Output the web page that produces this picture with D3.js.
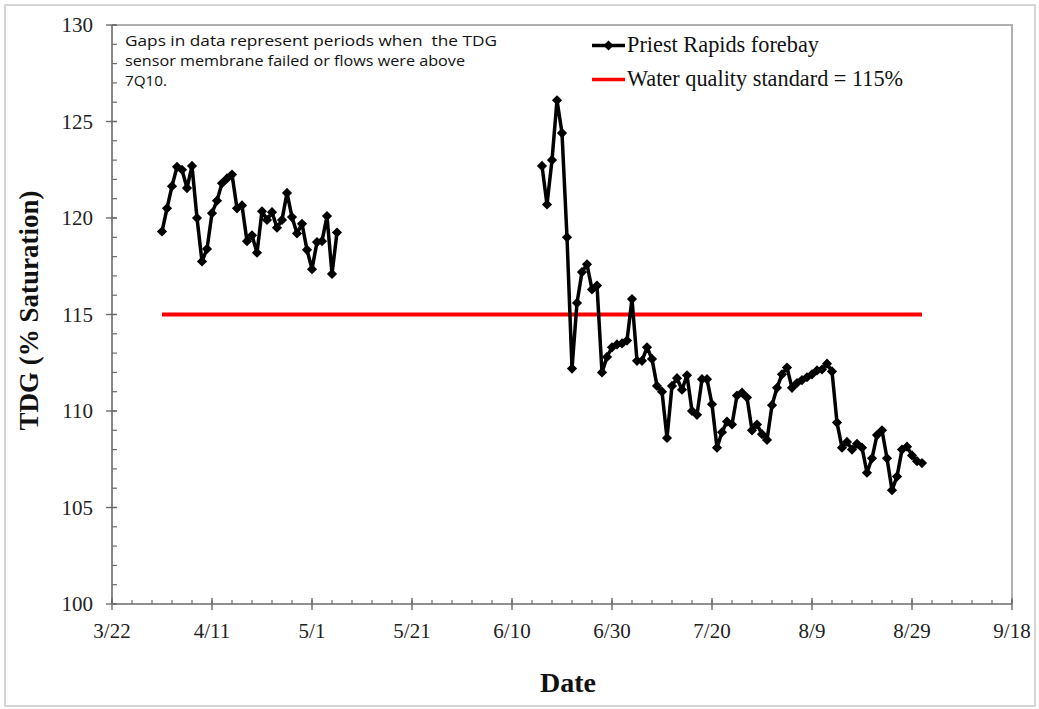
<!DOCTYPE html>
<html>
<head>
<meta charset="utf-8">
<script src="https://cdn.jsdelivr.net/npm/d3@7"></script>
<style>
  html, body { margin: 0; padding: 0; background: #fff; }
  svg { display: block; }
</style>
</head>
<body>
<svg id="chart" width="1039" height="709"></svg>
<script>
// ---- data ----
const xTickLabels = ["3/22", "4/11", "5/1", "5/21", "6/10", "6/30", "7/20", "8/9", "8/29", "9/18"];
const yTickValues = [100, 105, 110, 115, 120, 125, 130];

// Priest Rapids forebay, daily TDG (% saturation), first period starting 4/1
const seg1Start = "2013-04-01";
const seg1Values = [119.3, 120.5, 121.65, 122.65, 122.5, 121.55, 122.7, 120.0, 117.75, 118.4,
  120.25, 120.9, 121.8, 122.05, 122.25, 120.5, 120.65, 118.8, 119.1, 118.2,
  120.35, 119.9, 120.3, 119.5, 119.9, 121.3, 120.05, 119.2, 119.7, 118.35,
  117.35, 118.75, 118.8, 120.1, 117.1, 119.25];

// second period starting 6/16
const seg2Start = "2013-06-16";
const seg2Values = [122.7, 120.7, 123.0, 126.1, 124.4, 119.0, 112.2, 115.6, 117.2, 117.6,
  116.3, 116.5, 112.0, 112.8, 113.3, 113.45, 113.5, 113.65, 115.8, 112.6,
  112.6, 113.3, 112.7, 111.3, 111.0, 108.6, 111.3, 111.7, 111.1, 111.85,
  110.0, 109.8, 111.65, 111.65, 110.35, 108.1, 108.9, 109.45, 109.3, 110.8,
  110.95, 110.7, 109.0, 109.3, 108.8, 108.5, 110.3, 111.2, 111.9, 112.25,
  111.2, 111.45, 111.6, 111.75, 111.9, 112.1, 112.15, 112.45, 112.05, 109.4,
  108.1, 108.4, 108.0, 108.3, 108.1, 106.8, 107.55, 108.75, 109.0, 107.55,
  105.9, 106.6, 108.0, 108.15, 107.7, 107.4, 107.3];

const standardValue = 115;
const standardDates = ["2013-04-01", "2013-08-31"];

const seriesName = "Priest Rapids forebay";
const standardName = "Water quality standard = 115%";
const noteLines = ["Gaps in data represent periods when  the TDG",
  "sensor membrane failed or flows were above",
  "7Q10."];
const noteWidths = [372, 340, 42];

// ---- build ----
const parse = d3.timeParse("%Y-%m-%d");
const start = parse("2013-03-22");
const end = parse("2013-09-18");

function buildSeries(startStr, values) {
  const s = parse(startStr);
  return values.map((v, i) => ({ date: d3.timeDay.offset(s, i), value: v }));
}
const segments = [buildSeries(seg1Start, seg1Values), buildSeries(seg2Start, seg2Values)];

const svg = d3.select("#chart");
const M = { left: 112, right: 1012, top: 25, bottom: 604 };

const x = d3.scaleTime().domain([start, end]).range([M.left, M.right]);
const y = d3.scaleLinear().domain([100, 130]).range([M.bottom, M.top]);

// outer frame
svg.append("rect").attr("x", 5).attr("y", 5).attr("width", 1030).attr("height", 701)
  .attr("fill", "none").attr("stroke", "#c8c8c8").attr("stroke-width", 1.5);

// plot frame top & right
svg.append("path")
  .attr("d", `M${M.left},${M.top}H${M.right}V${M.bottom}`)
  .attr("fill", "none").attr("stroke", "#b0b0b0").attr("stroke-width", 2);

const axisColor = "#6a6a6a";
const serif = "'Liberation Serif', 'Times New Roman', serif";

// x axis
const majorX = d3.range(0, 181, 20).map(d => d3.timeDay.offset(start, d));
const minorX = d3.range(0, 181, 4).map(d => d3.timeDay.offset(start, d));
const gx = svg.append("g");
gx.selectAll("line.minor").data(minorX).join("line")
  .attr("x1", d => x(d)).attr("x2", d => x(d))
  .attr("y1", M.bottom).attr("y2", M.bottom - 4)
  .attr("stroke", axisColor).attr("stroke-width", 1.2);
gx.selectAll("line.major").data(majorX).join("line")
  .attr("x1", d => x(d)).attr("x2", d => x(d))
  .attr("y1", M.bottom - 6).attr("y2", M.bottom + 6)
  .attr("stroke", axisColor).attr("stroke-width", 1.4);
gx.append("line").attr("x1", M.left).attr("x2", M.right)
  .attr("y1", M.bottom).attr("y2", M.bottom)
  .attr("stroke", axisColor).attr("stroke-width", 1.6);
gx.selectAll("text").data(majorX).join("text")
  .attr("x", d => x(d)).attr("y", 638)
  .attr("text-anchor", "middle")
  .attr("font-family", serif).attr("font-size", 21).attr("fill", "#222")
  .text((d, i) => xTickLabels[i]);

// y axis
const minorY = d3.range(100, 131, 1);
const gy = svg.append("g");
gy.selectAll("line.minor").data(minorY).join("line")
  .attr("x1", M.left).attr("x2", M.left + 5)
  .attr("y1", d => y(d)).attr("y2", d => y(d))
  .attr("stroke", axisColor).attr("stroke-width", 1.2);
gy.selectAll("line.major").data(yTickValues).join("line")
  .attr("x1", M.left - 6).attr("x2", M.left + 5)
  .attr("y1", d => y(d)).attr("y2", d => y(d))
  .attr("stroke", axisColor).attr("stroke-width", 1.4);
gy.append("line").attr("x1", M.left).attr("x2", M.left)
  .attr("y1", M.top).attr("y2", M.bottom)
  .attr("stroke", axisColor).attr("stroke-width", 1.6);
gy.selectAll("text").data(yTickValues).join("text")
  .attr("x", 93).attr("y", d => y(d) + 7)
  .attr("text-anchor", "end")
  .attr("font-family", serif).attr("font-size", 21).attr("fill", "#222")
  .text(d => d);

// axis titles
svg.append("text")
  .attr("transform", `translate(38,${(M.top + M.bottom) / 2 - 4}) rotate(-90)`)
  .attr("text-anchor", "middle")
  .attr("font-family", serif).attr("font-weight", "bold").attr("font-size", 27).attr("fill", "#111")
  .text("TDG (% Saturation)");
svg.append("text")
  .attr("x", 568).attr("y", 692)
  .attr("text-anchor", "middle")
  .attr("font-family", serif).attr("font-weight", "bold").attr("font-size", 28).attr("fill", "#111")
  .text("Date");

// standard line
svg.append("line")
  .attr("x1", x(parse(standardDates[0]))).attr("x2", x(parse(standardDates[1])))
  .attr("y1", y(standardValue)).attr("y2", y(standardValue))
  .attr("stroke", "#ff0000").attr("stroke-width", 4);

// series
const line = d3.line().x(d => x(d.date)).y(d => y(d.value));
const diamond = d3.symbol().type(d3.symbolSquare).size(52);
segments.forEach(seg => {
  svg.append("path").datum(seg).attr("d", line)
    .attr("fill", "none").attr("stroke", "#000").attr("stroke-width", 3.5)
    .attr("stroke-linejoin", "round");
  svg.append("g").selectAll("path").data(seg).join("path")
    .attr("d", diamond)
    .attr("transform", d => `translate(${x(d.date)},${y(d.value)}) rotate(45)`)
    .attr("fill", "#000");
});

// legend
const lg = svg.append("g");
lg.append("line").attr("x1", 592).attr("x2", 625).attr("y1", 45.5).attr("y2", 45.5)
  .attr("stroke", "#000").attr("stroke-width", 3.5);
lg.append("path").attr("d", diamond).attr("transform", "translate(608.5,45.5) rotate(45)").attr("fill", "#000");
lg.append("text").attr("x", 627).attr("y", 52)
  .attr("font-family", serif).attr("font-size", 22.3).attr("fill", "#111").text(seriesName);
lg.append("line").attr("x1", 592).attr("x2", 625).attr("y1", 79.5).attr("y2", 79.5)
  .attr("stroke", "#ff0000").attr("stroke-width", 3.5);
lg.append("text").attr("x", 627).attr("y", 86)
  .attr("font-family", serif).attr("font-size", 22.3).attr("fill", "#111").text(standardName);

// note
svg.append("g").selectAll("text").data(noteLines).join("text")
  .attr("x", 125).attr("y", (d, i) => 46 + i * 20)
  .attr("font-family", "'Open Sans', 'Noto Sans', sans-serif").attr("font-size", 14.5).attr("fill", "#111")
  .attr("textLength", (d, i) => noteWidths[i]).attr("lengthAdjust", "spacingAndGlyphs")
  .attr("xml:space", "preserve").style("white-space", "pre")
  .text(d => d);
</script>
</body>
</html>
